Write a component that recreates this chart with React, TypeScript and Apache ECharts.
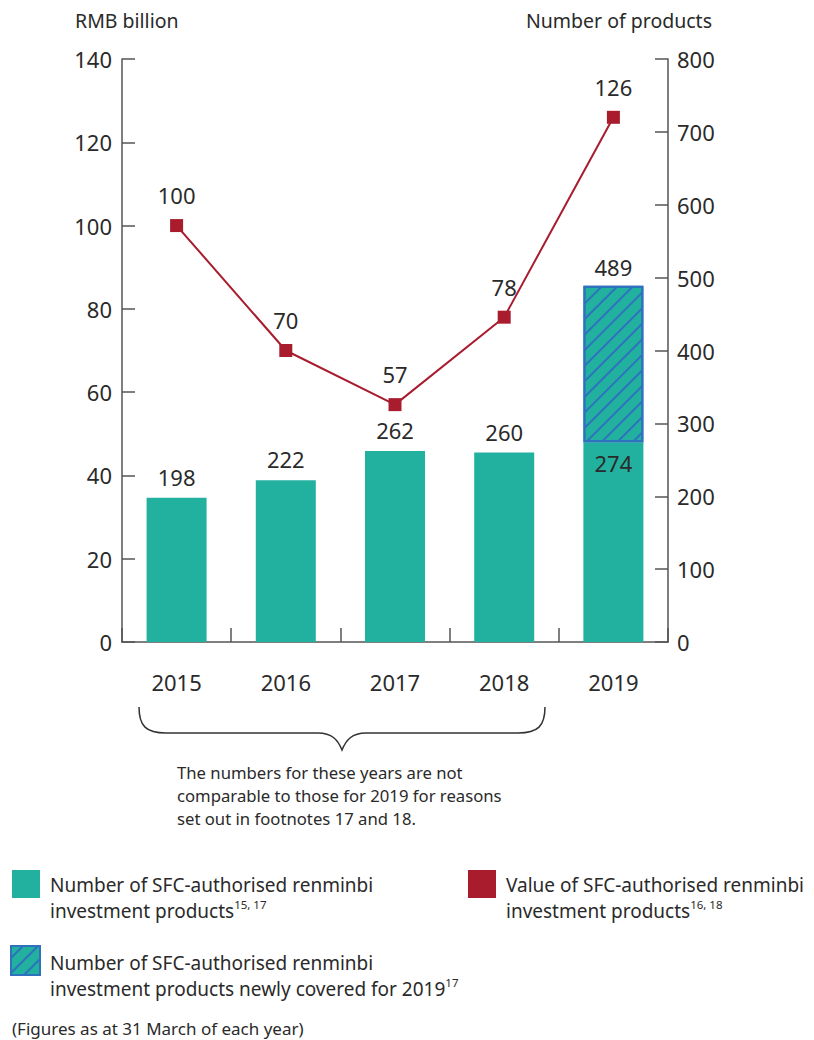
import React, { useEffect, useRef } from "react";
import * as echarts from "echarts";

const years = ["2015", "2016", "2017", "2018", "2019"];
const productCounts = [198, 222, 262, 260, 274];
const totalProducts2019 = 489;
const valueRmbBn = [100, 70, 57, 78, 126];
const leftTicks = { min: 0, max: 140, interval: 20 };
const rightTicks = { min: 0, max: 800, interval: 100 };

const TEAL = "#22B09F";
const RED = "#A81C2E";
const BLUE = "#2E72BE";
const TXT = "#2a2a2a";
const FONT = "Noto Sans";
const NUM = 22;

const newlyCovered = years.map((_, i) =>
  i === years.length - 1 ? totalProducts2019 - productCounts[i] : "-"
);

const bracePath =
  "M139,707 C139,726 146,733 166,733 L318,733 C332,733 338,740 342,750 C346,740 352,733 366,733 L518,733 C538,733 545,726 545,707";

function hatchLines(x0: number, y0: number, s: number, ks: number[]) {
  return ks.map((k) => {
    const p1 = k <= s ? [0, k] : [k - s, s];
    const p2 = k <= s ? [k, 0] : [s, k - s];
    return {
      type: "line",
      shape: { x1: x0 + p1[0], y1: y0 + p1[1], x2: x0 + p2[0], y2: y0 + p2[1] },
      style: { stroke: BLUE, lineWidth: 2 },
    };
  });
}

export default function App() {
  const ref = useRef<HTMLDivElement>(null);
  useEffect(() => {
    if (!ref.current) return;
    echarts.graphic.registerShape("brace", echarts.graphic.extendPath(bracePath, {}));
    const chart = echarts.init(ref.current, null, { renderer: "svg" });
    const legendText = {
      fontSize: 19,
      fontFamily: FONT,
      fill: TXT,
      lineHeight: 26,
      rich: {
        sup: { fontSize: 11.5, fontFamily: FONT, fill: TXT, verticalAlign: "top", lineHeight: 26 },
      },
    };
    const axisLine = { show: true, lineStyle: { color: "#555", width: 1.5 } };
    const axisTick = { show: true, inside: true, length: 13, lineStyle: { color: "#555", width: 1.5 } };
    const numLabel = { fontSize: NUM, color: TXT, fontFamily: FONT };
    chart.setOption({
      animation: false,
      textStyle: { fontFamily: FONT, color: TXT },
      grid: { left: 122, right: 146, top: 59, bottom: 398, containLabel: false },
      xAxis: {
        type: "category",
        data: years,
        axisLine,
        axisTick: { ...axisTick, length: 14 },
        axisLabel: { ...numLabel, margin: 29 },
      },
      yAxis: [
        {
          type: "value",
          ...leftTicks,
          axisLine,
          axisTick,
          axisLabel: { ...numLabel, margin: 10 },
          splitLine: { show: false },
        },
        {
          type: "value",
          ...rightTicks,
          position: "right",
          axisLine,
          axisTick,
          axisLabel: { ...numLabel, margin: 9 },
          splitLine: { show: false },
        },
      ],
      series: [
        {
          name: "base",
          type: "bar",
          yAxisIndex: 1,
          stack: "p",
          barWidth: 60,
          itemStyle: { color: TEAL },
          data: productCounts.map((v, i) =>
            i === years.length - 1
              ? { value: v, label: { position: "insideTop", distance: 10 } }
              : v
          ),
          label: { show: true, position: "top", distance: 10, ...numLabel },
        },
        {
          name: "new",
          type: "bar",
          yAxisIndex: 1,
          stack: "p",
          barWidth: 60,
          itemStyle: {
            color: TEAL,
            borderColor: BLUE,
            borderWidth: 2,
            decal: {
              symbol: "rect",
              symbolSize: 1,
              color: BLUE,
              dashArrayX: [1, 0],
              dashArrayY: [2, 9],
              rotation: -Math.PI / 4,
            },
          },
          data: newlyCovered,
          label: {
            show: true,
            position: "top",
            distance: 8,
            ...numLabel,
            formatter: () => String(totalProducts2019),
          },
        },
        {
          name: "value",
          type: "line",
          yAxisIndex: 0,
          data: valueRmbBn,
          symbol: "rect",
          symbolSize: 13,
          lineStyle: { color: RED, width: 2 },
          itemStyle: { color: RED },
          label: { show: true, position: "top", distance: 13, ...numLabel },
          z: 5,
        },
      ],
      graphic: [
        {
          type: "text",
          x: 75,
          y: 10,
          style: { text: "RMB billion", fontSize: 19.5, fontFamily: FONT, fill: TXT },
        },
        {
          type: "text",
          x: 712,
          y: 10,
          style: { text: "Number of products", fontSize: 19.5, fontFamily: FONT, fill: TXT, align: "right" },
        },
        { type: "brace", x: 0, y: 0, style: { stroke: "#333", fill: null, lineWidth: 1.5 } },
        {
          type: "text",
          x: 177,
          y: 761,
          style: {
            text: "The numbers for these years are not\ncomparable to those for 2019 for reasons\nset out in footnotes 17 and 18.",
            fontSize: 16.7,
            lineHeight: 23,
            fontFamily: FONT,
            fill: TXT,
          },
        },
        { type: "rect", shape: { x: 12, y: 870, width: 28, height: 28 }, style: { fill: TEAL } },
        {
          type: "text",
          x: 50,
          y: 872,
          style: { text: "Number of SFC-authorised renminbi\ninvestment products{sup|15, 17}", ...legendText },
        },
        { type: "rect", shape: { x: 468, y: 870, width: 28, height: 28 }, style: { fill: RED } },
        {
          type: "text",
          x: 506,
          y: 872,
          style: { text: "Value of SFC-authorised renminbi\ninvestment products{sup|16, 18}", ...legendText },
        },
        {
          type: "rect",
          shape: { x: 11, y: 946, width: 29, height: 29 },
          style: { fill: TEAL },
        },
        ...hatchLines(11, 946, 29, [12, 27, 42]),
        {
          type: "rect",
          shape: { x: 11, y: 946, width: 29, height: 29 },
          style: { fill: null, stroke: BLUE, lineWidth: 2 },
        },
        {
          type: "text",
          x: 50,
          y: 950,
          style: { text: "Number of SFC-authorised renminbi\ninvestment products newly covered for 2019{sup|17}", ...legendText },
        },
        {
          type: "text",
          x: 12,
          y: 1020,
          style: { text: "(Figures as at 31 March of each year)", fontSize: 17, fontFamily: FONT, fill: TXT },
        },
      ],
    });
    return () => chart.dispose();
  }, []);
  return (
    <div
      ref={ref}
      style={{ position: "absolute", left: 0, top: 0, width: 814, height: 1040 }}
    />
  );
}
